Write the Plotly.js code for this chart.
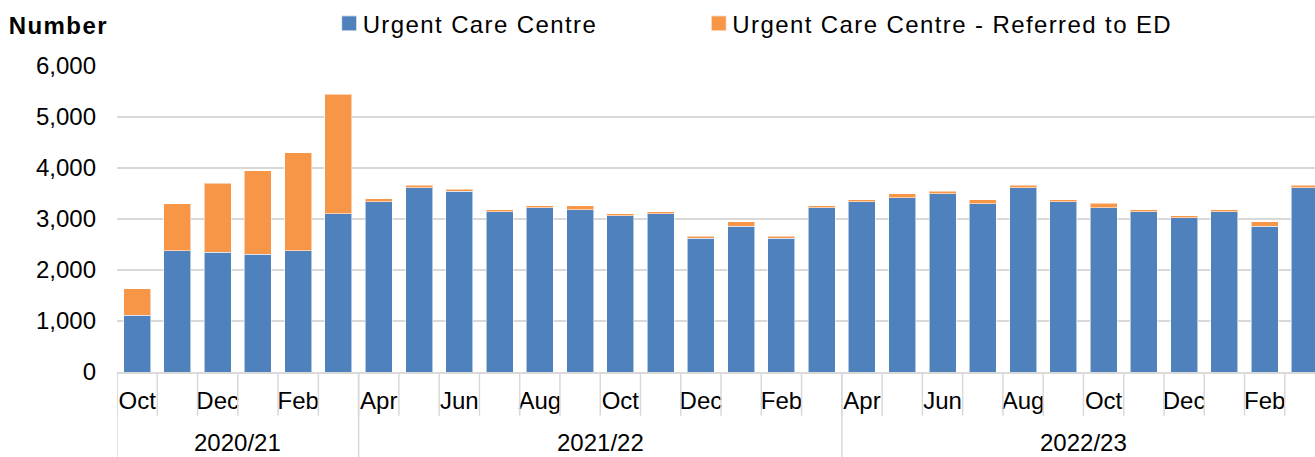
<!DOCTYPE html>
<html><head><meta charset="utf-8">
<script src="https://cdn.plot.ly/plotly-3.0.1.min.js"></script>
<style>
html,body{margin:0;padding:0;background:#fff;overflow:hidden}
#chart{width:1315px;height:457px}
.legendtext{letter-spacing:1.4px}
.annotation[data-index="0"] text{letter-spacing:1.4px}
.legendpoints path{transform:translate(116.5px,0) scale(1.25)}
</style></head><body><div id="chart"></div>
<script>
const months = ['Oct','Nov','Dec','Jan','Feb','Mar',
  'Apr','May','Jun','Jul','Aug','Sep','Oct','Nov','Dec','Jan','Feb','Mar',
  'Apr','May','Jun','Jul','Aug','Sep','Oct','Nov','Dec','Jan','Feb','Mar'];
const years = ['2020/21','2020/21','2020/21','2020/21','2020/21','2020/21',
  '2021/22','2021/22','2021/22','2021/22','2021/22','2021/22','2021/22','2021/22','2021/22','2021/22','2021/22','2021/22',
  '2022/23','2022/23','2022/23','2022/23','2022/23','2022/23','2022/23','2022/23','2022/23','2022/23','2022/23','2022/23'];
const yearGroups = ['2020/21','2021/22','2022/23'];
const uccValues = [1110,2380,2345,2305,2380,3100,
  3335,3615,3540,3140,3220,3180,3060,3100,2620,2860,2620,3220,
  3335,3415,3495,3295,3610,3335,3220,3140,3025,3140,2860,3610];
const referredValues = [520,920,1360,1640,1915,2350,
  60,45,45,40,40,80,40,40,45,85,45,40,
  45,85,50,85,50,45,85,40,40,40,85,50];
const yTickVals = [0,1000,2000,3000,4000,5000,6000];
const seriesNames = ['Urgent Care Centre','Urgent Care Centre - Referred to ED'];
const seriesColors = ['#4F81BD','#F79646'];

const cats = months.map((m,i)=>m+' '+years[i]);
const tickVals = cats.filter((c,i)=>i%2===0);
const tickText = months.filter((m,i)=>i%2===0);

const FONT = 'Liberation Sans, Arial, sans-serif';
const W = 1315, H = 457, L = 117.4, T = 66, B = 84.7;
const plotH = H - T - B;

const barLine = {color:'rgba(255,255,255,0.55)', width:1};
const traces = [
  {type:'bar', x:cats, y:uccValues, name:seriesNames[0], marker:{color:seriesColors[0], line:barLine}},
  {type:'bar', x:cats, y:referredValues, name:seriesNames[1], marker:{color:seriesColors[1], line:barLine}}
];

const shapes = [];
const gridC = '#d9d9d9';
for (let i = 0; i <= cats.length; i++) {
  shapes.push({type:'line', xref:'x', yref:'paper', x0:i-0.5, x1:i-0.5, y0:0, y1:-(416-372.3)/plotH,
    line:{color:gridC, width:1.5}, layer:'above'});
}
const groupStarts = [];
years.forEach((y,i)=>{ if(i===0 || years[i-1]!==y) groupStarts.push(i); });
groupStarts.forEach(s=>{
  shapes.push({type:'line', xref:'x', yref:'paper', x0:s-0.5, x1:s-0.5, y0:0, y1:-0.4,
    line:{color:gridC, width:1.5}, layer:'above'});
});

const annotations = [
  {xref:'paper', yref:'paper', x:(11.7-L)/(W-L), xanchor:'left', y:1+(T-25.4)/plotH, yanchor:'middle',
   text:'<b>Number</b>', showarrow:false, font:{family:FONT, size:24, color:'#000'}}
];
yearGroups.forEach(g=>{
  const idx = years.map((y,i)=>y===g?i:-1).filter(i=>i>=0);
  const mid = (idx[0]+idx[idx.length-1])/2;
  annotations.push({xref:'x', yref:'paper', x:mid, y:-(457-372.3)/plotH, yanchor:'bottom', xanchor:'center',
    borderpad:0, text:g, showarrow:false, font:{family:FONT, size:24, color:'#000'}});
});

const legendFont = {family:FONT, size:24, color:'#000'};
const layout = {
  width:W, height:H,
  margin:{l:L, r:0, t:T, b:B, pad:0},
  barmode:'stack', bargap:0.33,
  paper_bgcolor:'#fff', plot_bgcolor:'#fff',
  font:{family:FONT, size:24, color:'#000'},
  showlegend:true,
  legend:{orientation:'h', x:(233-L)/(W-L), xanchor:'left', y:1+(T-23.7)/plotH, yanchor:'middle',
    itemwidth:120, traceorder:'normal', font:legendFont, bgcolor:'rgba(0,0,0,0)'},
  xaxis:{type:'category', range:[-0.5, 29.25], tickvals:tickVals, ticktext:tickText, ticks:'',
    showline:true, linecolor:gridC, linewidth:1.5, showgrid:false, zeroline:false,
    tickfont:{family:FONT, size:24, color:'#000'}, ticklabelstandoff:7, fixedrange:true},
  yaxis:{range:[0,6000], tickvals:yTickVals, tickformat:',', ticks:'', showgrid:true, gridcolor:gridC, gridwidth:1.5,
    zeroline:false, showline:false, tickfont:{family:FONT, size:24, color:'#000'}, ticklabelstandoff:20, fixedrange:true},
  shapes:shapes, annotations:annotations
};

Plotly.newPlot('chart', traces, layout, {displayModeBar:false, staticPlot:true});
</script></body></html>
